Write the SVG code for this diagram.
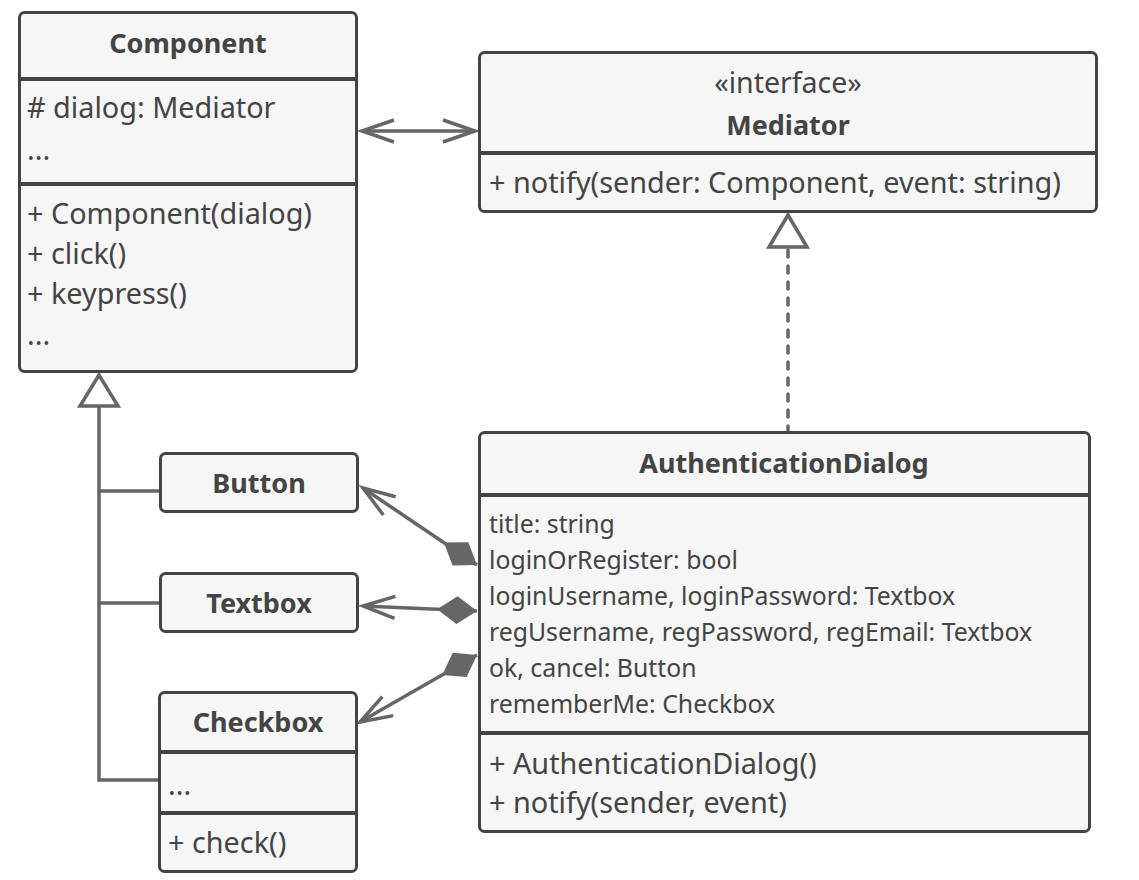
<svg xmlns="http://www.w3.org/2000/svg" width="1139" height="880" viewBox="0 0 1139 880">
<style>
.box{fill:#f6f6f6;stroke:#444;stroke-width:3}
.div{stroke:#444;stroke-width:4}
.t{font-family:"Noto Sans",sans-serif;font-size:28.8px;fill:#444}
.s{font-family:"Noto Sans",sans-serif;font-size:24.8px;fill:#444}
.b{font-family:"Noto Sans",sans-serif;font-size:27px;font-weight:bold;fill:#444;text-anchor:middle}
.c{font-family:"Noto Sans",sans-serif;font-size:28.5px;fill:#444;text-anchor:middle}
.ln{fill:none;stroke:#666;stroke-width:3.5}
.dash{stroke-dasharray:7 9;stroke-linecap:round}
.tri{fill:#fff;stroke:#666;stroke-width:3.5;stroke-linejoin:miter}
</style>
<defs>
<marker id="arrowEnd" markerUnits="userSpaceOnUse" orient="auto" markerWidth="40" markerHeight="30" refX="0" refY="0" viewBox="-36 -15 40 30" overflow="visible">
<path d="M-32,-11 L0,0 L-32,11" fill="none" stroke="#666" stroke-width="3.5"/>
</marker>
<marker id="arrowStart" markerUnits="userSpaceOnUse" orient="auto" markerWidth="40" markerHeight="30" refX="0" refY="0" viewBox="-4 -15 40 30" overflow="visible">
<path d="M32,-11 L0,0 L32,11" fill="none" stroke="#666" stroke-width="3.5"/>
</marker>
<marker id="diamond" markerUnits="userSpaceOnUse" orient="auto" markerWidth="44" markerHeight="32" refX="0" refY="0" viewBox="-2 -16 44 32" overflow="visible">
<path d="M0,0 L20,-14 L40,0 L20,14 Z" fill="#666"/>
</marker>
</defs>

<g id="connectors">
<line class="ln" x1="362" y1="131" x2="475" y2="131" marker-start="url(#arrowStart)" marker-end="url(#arrowEnd)"/>
<polyline class="ln" points="99,406 99,780 159,780"/>
<line class="ln" x1="99" y1="491" x2="160" y2="491"/>
<line class="ln" x1="99" y1="603" x2="160" y2="603"/>
<polygon class="tri" points="99,375 80,406 118,406"/>
<line class="ln dash" x1="788" y1="250" x2="788" y2="430"/>
<polygon class="tri" points="788,215 769,247 807,247"/>
<line class="ln" x1="477" y1="565" x2="363" y2="488" marker-start="url(#diamond)" marker-end="url(#arrowEnd)"/>
<line class="ln" x1="477" y1="611" x2="363" y2="606" marker-start="url(#diamond)" marker-end="url(#arrowEnd)"/>
<line class="ln" x1="477" y1="655" x2="360" y2="722" marker-start="url(#diamond)" marker-end="url(#arrowEnd)"/>
</g>

<g id="component">
<rect class="box" x="19.5" y="12.5" width="337" height="359" rx="5"/>
<line class="div" x1="19.5" y1="79" x2="356.5" y2="79"/>
<line class="div" x1="19.5" y1="184" x2="356.5" y2="184"/>
<text class="b" x="188" y="53">Component</text>
<text class="t" x="27" y="118"># dialog: Mediator</text>
<text class="t" x="27" y="160">...</text>
<text class="t" x="27" y="224">+ Component(dialog)</text>
<text class="t" x="27" y="264">+ click()</text>
<text class="t" x="27" y="304">+ keypress()</text>
<text class="t" x="27" y="345">...</text>
</g>

<g id="mediator">
<rect class="box" x="479.5" y="52.5" width="617" height="159" rx="5"/>
<line class="div" x1="479.5" y1="153" x2="1096.5" y2="153"/>
<text class="c" x="788" y="93">«interface»</text>
<text class="b" x="788" y="135">Mediator</text>
<text class="t" x="489" y="193">+ notify(sender: Component, event: string)</text>
</g>

<g id="button">
<rect class="box" x="160.5" y="453.5" width="197" height="58" rx="5"/>
<text class="b" x="259" y="493">Button</text>
</g>

<g id="textbox">
<rect class="box" x="160.5" y="573.5" width="197" height="58" rx="5"/>
<text class="b" x="259" y="613">Textbox</text>
</g>

<g id="checkbox">
<rect class="box" x="159.5" y="692.5" width="197" height="179" rx="5"/>
<line class="div" x1="159.5" y1="752" x2="356.5" y2="752"/>
<line class="div" x1="159.5" y1="813" x2="356.5" y2="813"/>
<text class="b" x="258" y="732">Checkbox</text>
<text class="t" x="168" y="795">...</text>
<text class="t" x="168" y="853">+ check()</text>
</g>

<g id="authenticationDialog">
<rect class="box" x="479.5" y="432.5" width="610" height="399" rx="5"/>
<line class="div" x1="479.5" y1="495" x2="1089.5" y2="495"/>
<line class="div" x1="479.5" y1="733" x2="1089.5" y2="733"/>
<text class="b" x="784" y="473">AuthenticationDialog</text>
<text class="s" x="489" y="533">title: string</text>
<text class="s" x="489" y="569">loginOrRegister: bool</text>
<text class="s" x="489" y="605">loginUsername, loginPassword: Textbox</text>
<text class="s" x="489" y="641">regUsername, regPassword, regEmail: Textbox</text>
<text class="s" x="489" y="677">ok, cancel: Button</text>
<text class="s" x="489" y="713">rememberMe: Checkbox</text>
<text class="t" x="489" y="774">+ AuthenticationDialog()</text>
<text class="t" x="489" y="813">+ notify(sender, event)</text>
</g>
</svg>
